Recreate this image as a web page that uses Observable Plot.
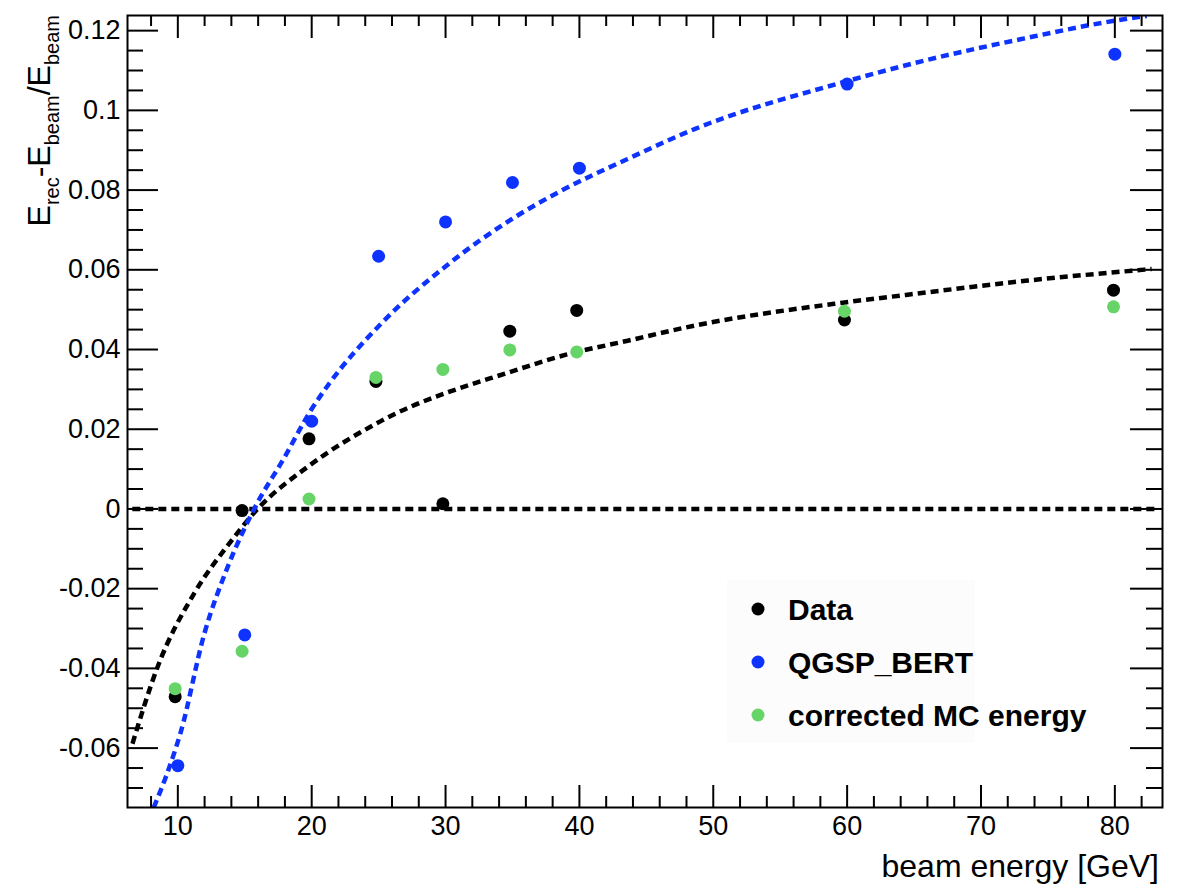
<!DOCTYPE html>
<html>
<head>
<meta charset="utf-8">
<script src="https://cdn.jsdelivr.net/npm/d3@7"></script>
<script src="https://cdn.jsdelivr.net/npm/@observablehq/plot@0.6"></script>
<style>
  body { margin: 0; background: #fff; }
  #chart svg { display: block; }
</style>
</head>
<body>
<div id="chart"></div>
<script>
// ---------- data ----------
const seriesNames = ["Data", "QGSP_BERT", "corrected MC energy"];

const dataX = [9.8, 14.8, 19.8, 24.8, 29.8, 34.8, 39.8, 59.8, 79.9];
const dataY = [-0.0471, -0.0004, 0.0176, 0.0320, 0.0013, 0.0446, 0.0498, 0.0474, 0.0549];

const qgspX = [10, 15, 20, 25, 30, 35, 40, 60, 80];
const qgspY = [-0.0644, -0.0316, 0.0220, 0.0634, 0.0720, 0.0819, 0.0855, 0.1066, 0.1141];

const corrX = [9.8, 14.8, 19.8, 24.8, 29.8, 34.8, 39.8, 59.8, 79.9];
const corrY = [-0.0451, -0.0357, 0.0025, 0.0330, 0.0350, 0.0399, 0.0394, 0.0496, 0.0507];

// fitted curves
const dataFitX = [6.61, 8.48, 11.2, 13.72, 15.96, 19.83, 25.2, 35.13, 39.0, 43.6, 48.6, 59.8, 64.4, 73.5, 82.75];
const dataFitY = [-0.0589, -0.0397, -0.0213, -0.0092, 0, 0.0109, 0.0221, 0.0347, 0.0387, 0.0422, 0.0460, 0.0518, 0.0537, 0.0573, 0.0602];

const qgspFitX = [8.2, 9.45, 10.2, 11.97, 13.72, 15.7, 17.96, 19.93, 21.3, 25.16, 29.9, 35.13, 38.62, 43.6, 48.6, 60.07, 65.55, 73.03, 80.0, 82.38];
const qgspFitY = [-0.0749, -0.0640, -0.0562, -0.0314, -0.0146, 0, 0.0129, 0.0247, 0.0314, 0.0464, 0.0606, 0.0731, 0.0798, 0.0878, 0.0953, 0.1074, 0.1123, 0.1179, 0.1225, 0.1237];

const zeroLineX = [6.6, 83.0];
const zeroLineY = [0, 0];

// axes
const xDomain = [6.24, 83.56];
const yDomain = [-0.0749, 0.1238];
const xMajorTicks = [10, 20, 30, 40, 50, 60, 70, 80];
const xMinorTicks = [8, 12, 14, 16, 18, 22, 24, 26, 28, 32, 34, 36, 38, 42, 44, 46, 48, 52, 54, 56, 58, 62, 64, 66, 68, 72, 74, 76, 78, 82];
const yMajorTicks = [-0.06, -0.04, -0.02, 0, 0.02, 0.04, 0.06, 0.08, 0.1, 0.12];
const yMinorTicks = [-0.07, -0.065, -0.055, -0.05, -0.045, -0.035, -0.03, -0.025, -0.015, -0.01, -0.005,
                     0.005, 0.01, 0.015, 0.025, 0.03, 0.035, 0.045, 0.05, 0.055, 0.065, 0.07, 0.075,
                     0.085, 0.09, 0.095, 0.105, 0.11, 0.115];
const xTitle = "beam energy [GeV]";

// ---------- styling ----------
const BLACK = "#000000", BLUE = "#0f33ff", GREEN = "#66d466";
const colors = [BLACK, BLUE, GREEN];
const W = 1187, H = 887, mL = 127, mR = 25, mT = 15, mB = 80;
const fw = W - mL - mR, fh = H - mT - mB;
const FONT = "'Liberation Sans', Arial, Helvetica, sans-serif";

const rows = (xs, ys) => xs.map((x, i) => ({x, y: ys[i]}));
const dash = {strokeWidth: 4.5, strokeDasharray: "8,5", strokeLinecap: "butt", strokeLinejoin: "miter", clip: true, curve: "monotone-x"};

const svg = Plot.plot({
  width: W, height: H,
  marginLeft: mL, marginRight: mR, marginTop: mT, marginBottom: mB,
  style: {fontFamily: FONT, background: "white", color: "black", overflow: "visible"},
  x: {domain: xDomain},
  y: {domain: yDomain},
  marks: [
    Plot.line(rows(zeroLineX, zeroLineY), {x: "x", y: "y", stroke: BLACK, ...dash, curve: "linear"}),
    Plot.line(rows(dataFitX, dataFitY), {x: "x", y: "y", stroke: BLACK, ...dash}),
    Plot.line(rows(qgspFitX, qgspFitY), {x: "x", y: "y", stroke: BLUE, ...dash}),
    Plot.dot(rows(dataX, dataY), {x: "x", y: "y", r: 6.5, fill: BLACK, stroke: null}),
    Plot.dot(rows(qgspX, qgspY), {x: "x", y: "y", r: 6.5, fill: BLUE, stroke: null}),
    Plot.dot(rows(corrX, corrY), {x: "x", y: "y", r: 6.5, fill: GREEN, stroke: null}),
    // ROOT style inward ticks on all four sides
    Plot.tickX(xMajorTicks, {x: d => d, insetTop: fh - 22, stroke: BLACK, strokeWidth: 2}),
    Plot.tickX(xMinorTicks, {x: d => d, insetTop: fh - 11, stroke: BLACK, strokeWidth: 2}),
    Plot.tickX(xMajorTicks, {x: d => d, insetBottom: fh - 23, stroke: BLACK, strokeWidth: 2}),
    Plot.tickX(xMinorTicks, {x: d => d, insetBottom: fh - 11, stroke: BLACK, strokeWidth: 2}),
    Plot.tickY(yMajorTicks, {y: d => d, insetRight: fw - 31, stroke: BLACK, strokeWidth: 2}),
    Plot.tickY(yMinorTicks, {y: d => d, insetRight: fw - 16, stroke: BLACK, strokeWidth: 2}),
    Plot.tickY(yMajorTicks, {y: d => d, insetLeft: fw - 32, stroke: BLACK, strokeWidth: 2}),
    Plot.tickY(yMinorTicks, {y: d => d, insetLeft: fw - 16, stroke: BLACK, strokeWidth: 2}),
    Plot.frame({stroke: BLACK, strokeWidth: 2}),
    Plot.axisX(xMajorTicks, {tickSize: 0, tickPadding: 8, fontSize: 27, label: null, tickFormat: d => String(d)}),
    Plot.axisY(yMajorTicks, {tickSize: 0, tickPadding: 7, fontSize: 27, label: null, tickFormat: d => String(d)})
  ]
});

const s = d3.select(svg);

// legend (very faint box + entries)
const lg = s.append("g").attr("font-family", FONT).attr("text-anchor", "start");
lg.append("rect").attr("x", 727).attr("y", 580).attr("width", 248).attr("height", 163).attr("fill", "#fcfcfc");
seriesNames.forEach((name, i) => {
  const cy = 609 + i * 53;
  lg.append("circle").attr("cx", 758).attr("cy", cy).attr("r", 6.5).attr("fill", colors[i]);
  lg.append("text").attr("x", 788).attr("y", cy + 11).attr("text-anchor", "start")
    .attr("font-size", 30).attr("font-weight", "bold").attr("fill", "black").text(name);
});

// x title
s.append("text").attr("x", 1159).attr("y", 877).attr("text-anchor", "end")
  .attr("font-family", FONT).attr("font-size", 32).attr("fill", "black").text(xTitle);

// y title with subscripts
const yt = s.append("text").attr("transform", "translate(50,15) rotate(-90)")
  .attr("text-anchor", "end").attr("font-family", FONT).attr("font-size", 32).attr("fill", "black");
const parts = [["E", false], ["rec", true], ["-E", false], ["beam", true], ["/E", false], ["beam", true]];
let down = false;
parts.forEach(([t, sub]) => {
  const ts = yt.append("tspan").text(t);
  if (sub) { ts.attr("font-size", 20).attr("dy", down ? 0 : 9); down = true; }
  else { ts.attr("dy", down ? -9 : 0); down = false; }
});

document.getElementById("chart").appendChild(svg);
</script>
</body>
</html>
